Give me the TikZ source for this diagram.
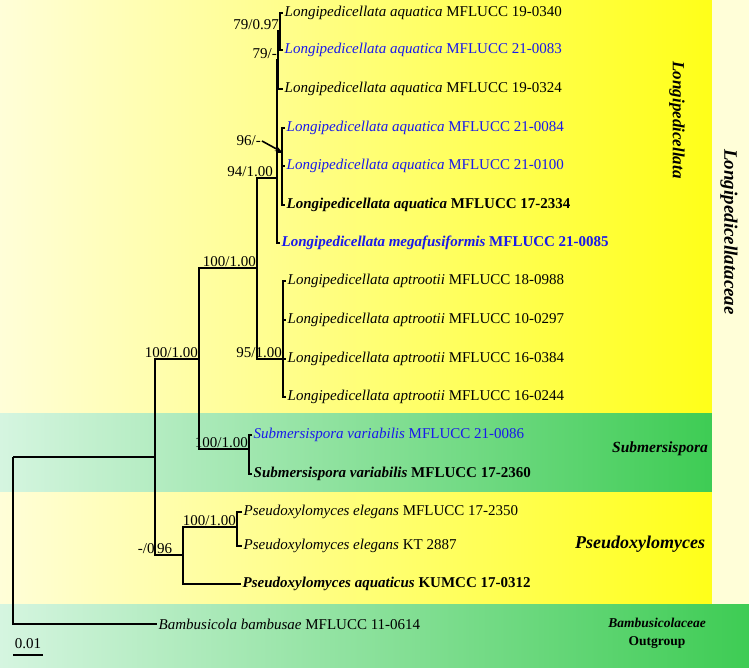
\documentclass[tikz,border=0pt]{standalone}
\usepackage{fontspec}
\setmainfont{Liberation Serif}
\usetikzlibrary{arrows.meta}
\definecolor{creamyellow}{RGB}{255,254,216}
\definecolor{midyellow}{RGB}{255,255,175}
\definecolor{brightyellow}{RGB}{255,255,25}
\definecolor{palegreen}{RGB}{213,245,224}
\definecolor{midgreen}{RGB}{160,230,175}
\definecolor{deepgreen}{RGB}{62,204,84}
\definecolor{taxblue}{RGB}{25,25,235}

\begin{document}
\begin{tikzpicture}[
    x=1pt, y=-1pt,
    taxon/.style={anchor=west, inner sep=1.5pt, font=\fontsize{15}{17}\selectfont},
    newtaxon/.style={taxon, text=taxblue},
    support/.style={anchor=south east, inner sep=1pt, font=\fontsize{15}{17}\selectfont},
    cladename/.style={font=\bfseries\itshape},
    branch/.style={line width=1.5pt}
]
\useasboundingbox (0,0) rectangle (749,668);
\shade[left color=creamyellow, middle color=midyellow, right color=brightyellow] (0,0) rectangle (712,413);
\shade[left color=palegreen, middle color=midgreen, right color=deepgreen] (0,413) rectangle (712,492);
\shade[left color=creamyellow, middle color=midyellow, right color=brightyellow] (0,492) rectangle (712,604);
\fill[creamyellow] (712,0) rectangle (749,604);
\shade[left color=palegreen, middle color=midgreen, right color=deepgreen] (0,604) rectangle (749,668);

\node[taxon] (l1) at (283,13) {\textit{Longipedicellata aquatica} MFLUCC 19-0340};
\node[newtaxon] (l2) at (283,50) {\textit{Longipedicellata aquatica} MFLUCC 21-0083};
\node[taxon] (l3) at (283,89) {\textit{Longipedicellata aquatica} MFLUCC 19-0324};
\node[newtaxon] (l4) at (285,128) {\textit{Longipedicellata aquatica} MFLUCC 21-0084};
\node[newtaxon] (l5) at (285,166) {\textit{Longipedicellata aquatica} MFLUCC 21-0100};
\node[taxon, font=\fontsize{15}{17}\selectfont\bfseries] (l6) at (285,205) {\textit{Longipedicellata aquatica} MFLUCC 17-2334};
\node[newtaxon, font=\fontsize{15}{17}\selectfont\bfseries] (l7) at (280,243) {\textit{Longipedicellata megafusiformis} MFLUCC 21-0085};
\node[taxon] (l8) at (286,281) {\textit{Longipedicellata aptrootii} MFLUCC 18-0988};
\node[taxon] (l9) at (286,320) {\textit{Longipedicellata aptrootii} MFLUCC 10-0297};
\node[taxon] (l10) at (286,359) {\textit{Longipedicellata aptrootii} MFLUCC 16-0384};
\node[taxon] (l11) at (286,397) {\textit{Longipedicellata aptrootii} MFLUCC 16-0244};
\node[newtaxon] (s1) at (252,435) {\textit{Submersispora variabilis} MFLUCC 21-0086};
\node[taxon, font=\fontsize{15}{17}\selectfont\bfseries] (s2) at (252,474) {\textit{Submersispora variabilis} MFLUCC 17-2360};
\node[taxon] (p1) at (242,512) {\textit{Pseudoxylomyces elegans} MFLUCC 17-2350};
\node[taxon] (p2) at (242,546) {\textit{Pseudoxylomyces elegans} KT 2887};
\node[taxon, font=\fontsize{15}{17}\selectfont\bfseries] (p3) at (241,584) {\textit{Pseudoxylomyces aquaticus} KUMCC 17-0312};
\node[taxon] (bamb) at (157,624) {\textit{Bambusicola bambusae} MFLUCC 11-0614};

\coordinate (nA1) at (280,31);
\coordinate (nA2) at (278,60);
\coordinate (nC) at (282,152);
\coordinate (nA) at (277,178);
\coordinate (nApt) at (283,359);
\coordinate (nL) at (257,268);
\coordinate (nS) at (249,449);
\coordinate (nLong) at (199,359);
\coordinate (nPe) at (237,527);
\coordinate (nP) at (183,555);
\coordinate (nMain) at (155,457);
\coordinate (root) at (13,457);

\draw[branch] (nA1) |- (l1.west) (nA1) |- (l2.west);
\draw[branch] (nA2) |- (nA1) (nA2) |- (l3.west);
\draw[branch] (nC) |- (l4.west) (nC) |- (l5.west) (nC) |- (l6.west);
\draw[branch] (nA) |- (nA2) (nA) |- (nC) (nA) |- (l7.west);
\draw[branch] (nApt) |- (l8.west) (nApt) |- (l9.west) (nApt) |- (l10.west) (nApt) |- (l11.west);
\draw[branch] (nL) |- (nA) (nL) |- (nApt);
\draw[branch] (nS) |- (s1.west) (nS) |- (s2.west);
\draw[branch] (nLong) |- (nL) (nLong) |- (nS);
\draw[branch] (nPe) |- (p1.west) (nPe) |- (p2.west);
\draw[branch] (nP) |- (nPe) (nP) |- (p3.west);
\draw[branch] (nMain) |- (nLong) (nMain) |- (nP);
\draw[branch] (root) |- (nMain) (root) |- (bamb.west);

\node[support] at (nA1) {79/0.97};
\node[support] at (nA2) {79/-};
\node[support, anchor=east] (lbl96) at (262,141) {96/-};
\draw[line width=1.6pt, -{Stealth[length=7pt]}] (lbl96.east) -- (nC);
\node[support, xshift=-3pt] at (nA) {94/1.00};
\node[support] at (nL) {100/1.00};
\node[support] at (nApt) {95/1.00};
\node[support] at (nLong) {100/1.00};
\node[support] at (nS) {100/1.00};
\node[support] at (nPe) {100/1.00};
\node[support, anchor=south] at (nMain |- nP) {-/0\,96};

\node[support, anchor=south] (scale) at (28,650) {0.01};
\coordinate (sb1) at (13,655);
\coordinate (sb2) at (43,655);
\draw[line width=1.8pt] (sb1) -- (sb2);

\node[cladename, rotate=-90, font=\fontsize{17}{19}\selectfont\bfseries\itshape] (genusL) at (677,120) {Longipedicellata};
\node[cladename, rotate=-90, font=\fontsize{19}{21}\selectfont\bfseries\itshape] (family) at (729,232) {Longipedicellataceae};
\node[cladename, font=\fontsize{15.5}{17}\selectfont\bfseries\itshape] (genusS) at (660,449) {Submersispora};
\node[cladename, font=\fontsize{18}{20}\selectfont\bfseries\itshape] (genusP) at (640,544) {Pseudoxylomyces};
\node[align=center, font=\fontsize{13.5}{18}\selectfont\bfseries] (outgroup) at (657,633) {\textit{Bambusicolaceae}\\Outgroup};
\end{tikzpicture}
\end{document}
